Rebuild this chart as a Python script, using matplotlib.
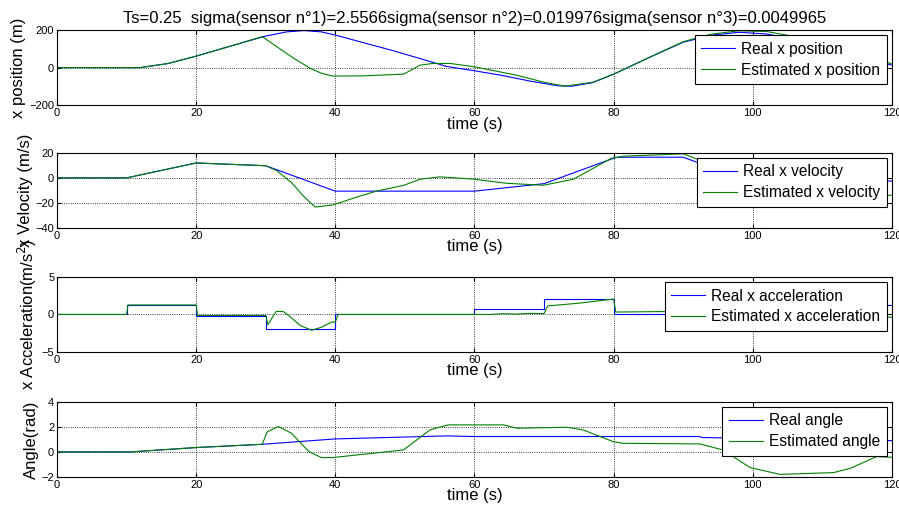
import numpy as np
import matplotlib
matplotlib.use("Agg")
import matplotlib.pyplot as plt

plt.rcParams['font.family'] = ['Liberation Sans', 'DejaVu Sans']

# position (m)
pos_t_real = [0, 12, 16, 20, 25, 30, 33, 35.5, 38, 40, 44, 48, 52, 56, 60, 64, 68, 72, 74, 77, 80, 85, 90, 94, 98, 102, 106, 110, 115, 120]
pos_real = [0, 0, 22, 61, 115, 168, 190, 197, 190, 173, 133, 93, 50, 6, -17, -42, -72, -97, -99, -80, -35, 52, 135, 172, 188, 179, 150, 108, 58, 13]
pos_t_est = [0, 12, 16, 20, 25, 29.5, 31.6, 34, 36.4, 38, 39.6, 44, 49.8, 52.2, 54, 56.5, 60, 66, 70, 73, 77, 80, 85, 90, 94, 98, 102, 105, 110, 115, 120]
pos_est = [0, 0, 22, 61, 115, 165, 111, 50, -4, -30, -45, -44, -35, 13, 22, 22, 4, -40, -78, -99, -78, -35, 52, 138, 178, 196, 192, 172, 125, 70, 20]

# velocity (m/s)
vel_t_real = [0, 10, 20, 30, 40, 60, 70, 80, 80.6, 90, 92, 100, 110, 115, 120]
vel_real = [0, 0, 11.9, 9.7, -10.6, -10.6, -4.6, 15.7, 16.5, 16.5, 12.4, -3.5, -3.5, -3, -2.5]
vel_t_est = [0, 10, 20, 30, 31.6, 33.7, 35.5, 37.1, 39.6, 43.5, 45.9, 49.8, 52.2, 55, 56.5, 59.8, 64.6, 69.9, 74.2, 79.7, 81.4, 90, 92, 95, 100, 105, 110, 115, 120]
vel_est = [0, 0, 11.9, 9.7, 5.7, -3.8, -15, -23.3, -21.7, -14.6, -10.6, -6, -1.1, 0.8, 0.3, -1, -4.3, -5.9, -1.1, 15.7, 17.3, 19.2, 15, 8, -3, -10, -14, -15, -13.8]

# acceleration (m/s^2)
acc_t_real = [0, 10, 10, 20, 20, 30, 30, 40, 40, 60, 60, 70, 70, 80, 80, 90, 90, 100, 100, 115, 115, 120]
acc_real = [0, 0, 1.2, 1.2, -0.15, -0.15, -1.95, -1.95, 0, 0, 0.68, 0.68, 2.03, 2.03, 0, 0, -1.5, -1.5, 0, 0, 1.26, 1.26]
acc_t_est = [0, 10, 10.2, 20, 20.2, 30, 30.3, 31.5, 32.5, 33.5, 35, 36.6, 38, 39.5, 40, 40.4, 62, 64, 66, 68, 70, 70.5, 75, 80, 80.3, 89, 91, 95, 100, 105, 110, 115, 120]
acc_est = [0, 0, 1.26, 1.26, -0.14, -0.14, -1.35, 0.4, 0.4, -0.3, -1.5, -2.1, -1.7, -1.0, -1.0, 0, 0, 0.1, 0.05, 0.15, 0.1, 1.13, 1.5, 2.05, 0.32, 0.4, 0.2, -0.9, -1.2, -0.6, -0.2, -0.3, -0.36]

# angle (rad)
ang_t_real = [0, 10.5, 20, 29.5, 40, 56, 60, 92.4, 92.6, 120]
ang_real = [0, 0, 0.35, 0.61, 1.04, 1.28, 1.23, 1.23, 1.15, 0.9]
ang_t_est = [0, 10.5, 20, 29.5, 30.2, 31.8, 33.7, 36.2, 38, 39.6, 49.8, 51.7, 53.6, 56.2, 64.2, 66.1, 73.3, 75.6, 79.9, 81.3, 92.4, 95.7, 99.6, 103.9, 111.6, 114, 117.8, 120]
ang_est = [0, 0, 0.35, 0.61, 1.6, 2.03, 1.49, 0.03, -0.45, -0.45, 0.16, 0.96, 1.76, 2.16, 2.16, 1.89, 1.97, 1.76, 0.83, 0.69, 0.64, 0.16, -1.25, -1.79, -1.65, -1.31, -0.37, -0.43]

panels = [
    (pos_t_real, pos_real, pos_t_est, pos_est, 'x position (m)', [-200, 0, 200], 'Real x position', 'Estimated x position'),
    (vel_t_real, vel_real, vel_t_est, vel_est, 'x Velocity (m/s)', [-40, -20, 0, 20], 'Real x velocity', 'Estimated x velocity'),
    (acc_t_real, acc_real, acc_t_est, acc_est, 'x Acceleration(m/s$^2$)', [-5, 0, 5], 'Real x acceleration', 'Estimated x acceleration'),
    (ang_t_real, ang_real, ang_t_est, ang_est, 'Angle(rad)', [-2, 0, 2, 4], 'Real angle', 'Estimated angle'),
]

fig = plt.figure(figsize=(8.99, 5.13), dpi=100)
bottoms = [0.795, 0.5556, 0.3138, 0.0702]
height = 0.1465

for i, (tr, yr, te, ye, ylab, yt, lr, le) in enumerate(panels):
    ax = fig.add_axes([0.0634, bottoms[i], 0.9288, height])
    ax.plot(tr, yr, color='#0000ff', lw=0.8, label=lr)
    ax.plot(te, ye, color='#008000', lw=0.8, label=le)
    ax.set_xlim(0, 120)
    ax.set_ylim(yt[0], yt[-1])
    ax.set_xticks([0, 20, 40, 60, 80, 100, 120])
    ax.set_yticks(yt)
    ax.grid(True, color='black', linestyle=':', linewidth=0.6)
    ax.tick_params(direction='in', top=True, right=True, labelsize=8, pad=2, length=3)
    for s in ax.spines.values():
        s.set_linewidth(0.8)
    ax.set_xlabel('time (s)', fontsize=12, labelpad=-1)
    ax.set_ylabel(ylab, fontsize=12, labelpad=2)
    leg = ax.legend(loc='upper right', fontsize=11.2, fancybox=False, framealpha=1,
                    edgecolor='black', borderaxespad=0.35, handlelength=2.2,
                    borderpad=0.4, labelspacing=0.38, handletextpad=0.4)
    leg.get_frame().set_linewidth(0.8)
    if i == 0:
        ax.set_title('Ts=0.25  sigma(sensor n\u00b01)=2.5566sigma(sensor n\u00b02)=0.019976sigma(sensor n\u00b03)=0.0049965',
                     fontsize=12, pad=5)

fig.savefig('out.png', dpi=100)
